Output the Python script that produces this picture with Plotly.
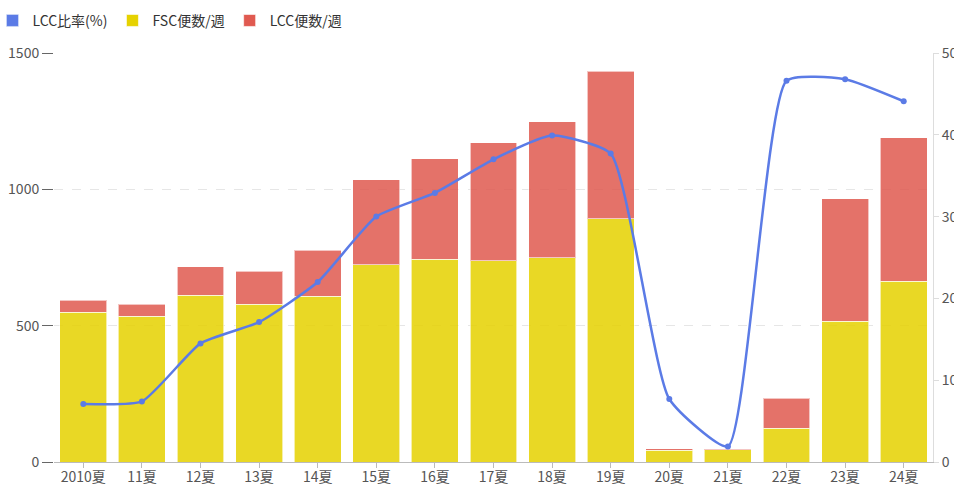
import plotly.graph_objects as go

categories = ["2010夏", "11夏", "12夏", "13夏", "14夏", "15夏", "16夏", "17夏",
              "18夏", "19夏", "20夏", "21夏", "22夏", "23夏", "24夏"]
fsc_flights = [550, 535, 611, 578, 607, 724, 743, 739, 750, 893, 44, 45, 124, 516, 662]
lcc_flights = [43, 44, 106, 121, 169, 311, 369, 432, 498, 541, 5, 1, 110, 450, 527]
lcc_ratio = [7.1, 7.4, 14.5, 17.1, 22.0, 30.0, 32.9, 37.0, 39.9, 37.7, 7.7, 1.9, 46.6, 46.8, 44.1]

BLUE = "rgb(91,123,230)"
YELLOW = "rgb(230,210,0)"
RED = "rgb(224,90,80)"
FONT = "Noto Sans CJK JP, Noto Sans, sans-serif"

fig = go.Figure()

# legend-only swatch for the line (square symbol like reference)
fig.add_trace(go.Bar(x=[categories[0]], y=[None], name="LCC比率(%)",
                     marker=dict(color=BLUE), legendgroup="ratio",
                     showlegend=True, hoverinfo="skip"))
fig.add_trace(go.Bar(x=categories, y=fsc_flights, name="FSC便数/週",
                     marker=dict(color=YELLOW, opacity=0.85,
                                 line=dict(color="rgba(255,255,255,0.6)", width=1))))
fig.add_trace(go.Bar(x=categories, y=lcc_flights, name="LCC便数/週",
                     marker=dict(color=RED, opacity=0.85,
                                 line=dict(color="rgba(255,255,255,0.6)", width=1))))
fig.add_trace(go.Scatter(x=categories, y=lcc_ratio, name="LCC比率(%)",
                         yaxis="y2", mode="lines+markers", legendgroup="ratio",
                         showlegend=False,
                         line=dict(color=BLUE, width=2.5, shape="spline", smoothing=0.5),
                         marker=dict(color=BLUE, size=6)))

fig.update_layout(
    width=954, height=484,
    barmode="stack", bargap=0.2,
    paper_bgcolor="white", plot_bgcolor="white",
    margin=dict(l=54, r=21, t=53, b=22, autoexpand=False),
    font=dict(family=FONT, size=14, color="#555"),
    legend=dict(orientation="h", x=-0.07, y=0.99, xref="paper", yref="container",
                xanchor="left", yanchor="top", traceorder="normal",
                font=dict(size=14, color="#333"), itemclick=False),
    xaxis=dict(range=[-0.5, 14.5], automargin=False,
               showline=True, linecolor="#bbb", linewidth=1,
               ticks="outside", tickcolor="#bbb", ticklen=5, ticklabelstandoff=-3,
               tickfont=dict(size=14, color="#555")),
    yaxis=dict(range=[0, 1500], dtick=500, showgrid=True, automargin=False,
               gridcolor="#e6e6e6", griddash="dash", zeroline=False,
               ticks="outside", tickcolor="#666", ticklen=11,
               tickfont=dict(size=14, color="#555")),
    yaxis2=dict(range=[0, 50], dtick=10, overlaying="y", side="right", automargin=False,
                showgrid=False, zeroline=False, showline=True, linecolor="#ddd",
                ticks="outside", tickcolor="#ddd", ticklen=5,
                tickfont=dict(size=14, color="#555")),
)

fig.write_html("out.html", config={"displayModeBar": False},
               post_script="document.body.style.margin='0';")
